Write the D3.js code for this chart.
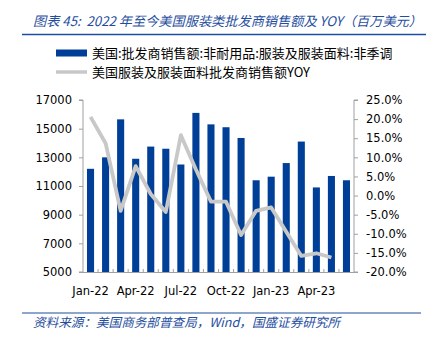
<!DOCTYPE html>
<html><head><meta charset="utf-8">
<script src="https://cdn.jsdelivr.net/npm/d3@7"></script>
<style>
body{margin:0;background:#fff;}
svg{display:block;}
</style></head>
<body>
<svg id="c" width="428" height="337"></svg>
<script>
const months = ["Jan-22","Feb-22","Mar-22","Apr-22","May-22","Jun-22","Jul-22","Aug-22","Sep-22","Oct-22","Nov-22","Dec-22","Jan-23","Feb-23","Mar-23","Apr-23","May-23","Jun-23"];
const sales = [12200,13000,15650,12900,13750,13600,12500,16100,15300,15100,14350,11400,11650,12600,14100,10900,11700,11400];
const yoy = [20.6,13.7,-4.0,7.7,0.4,-4.3,15.8,6.8,-1.6,-1.6,-10.3,-4.0,-3.1,-9.5,-15.8,-15.1,-16.2,null];
const xTickLabels = ["Jan-22","Apr-22","Jul-22","Oct-22","Jan-23","Apr-23"];
const leftTicks = [5000,7000,9000,11000,13000,15000,17000];
const rightTicks = [-20,-15,-10,-5,0,5,10,15,20,25];
const seriesNames = ["美国:批发商销售额:非耐用品:服装及服装面料:非季调","美国服装及服装面料批发商销售额YOY"];
const titleText = "图表 45:  2022 年至今美国服装类批发商销售额及 YOY（百万美元）";
const sourceText = "资料来源：美国商务部普查局，Wind，国盛证券研究所";

const svg = d3.select("#c");
const blue = "#003F98", gray = "#C8C8C8", axisCol = "#A0A0A0", titleBlue = "#1F4E9E";
const numFont = "'DejaVu Sans', sans-serif";
const cjkFont = "'Noto Sans CJK SC', sans-serif";

const L = 83, R = 354, T = 100, B = 272;
const x = d3.scaleBand().domain(months).range([L, R]).paddingInner(0.53).paddingOuter(0.265);
const xb = d3.scaleBand().domain(months).range([L, R]);
const yL = d3.scaleLinear().domain([5000,17000]).range([B, T]);
const yR = d3.scaleLinear().domain([-20,25]).range([B, T]);

// title
svg.append("text").attr("x",33).attr("y",26).attr("fill",titleBlue)
  .attr("font-family",cjkFont).attr("font-size",13.2).attr("font-style","italic")
  .attr("xml:space","preserve")
  .text(titleText);
svg.append("line").attr("x1",22).attr("x2",426).attr("y1",34.5).attr("y2",34.5)
  .attr("stroke",titleBlue).attr("stroke-width",1.5);

// legend
svg.append("rect").attr("x",56).attr("y",49.5).attr("width",31).attr("height",7).attr("fill",blue);
svg.append("text").attr("x",92).attr("y",57.5).attr("font-family",cjkFont).attr("font-size",13).attr("fill","#000").text(seriesNames[0]);
svg.append("line").attr("x1",56).attr("x2",87).attr("y1",72).attr("y2",72).attr("stroke",gray).attr("stroke-width",3.5);
svg.append("text").attr("x",92).attr("y",76.5).attr("font-family",cjkFont).attr("font-size",13).attr("fill","#000").text(seriesNames[1]);

// bars
svg.append("g").selectAll("rect").data(months).join("rect")
  .attr("x", d=>x(d)).attr("width", x.bandwidth())
  .attr("y", (d,i)=>yL(sales[i])).attr("height",(d,i)=>B-yL(sales[i]))
  .attr("fill",blue);

// left axis
const gl = svg.append("g").attr("transform",`translate(${L},0)`)
  .call(d3.axisLeft(yL).tickValues(leftTicks).tickSize(4).tickPadding(7).tickFormat(d3.format("d")));
gl.select(".domain").attr("stroke",axisCol).attr("d",`M-4,${T}H0V${B}H-4`);
gl.selectAll(".tick line").attr("stroke",axisCol);
gl.selectAll(".tick text").attr("font-family",numFont).attr("font-size",11.5).attr("fill","#000");

// right axis
const gr = svg.append("g").attr("transform",`translate(${R},0)`)
  .call(d3.axisRight(yR).tickValues(rightTicks).tickSize(4).tickPadding(8).tickFormat(d=>d.toFixed(1)+"%"));
gr.select(".domain").attr("stroke",axisCol).attr("d",`M4,${T}H0V${B}H4`);
gr.selectAll(".tick line").attr("stroke",axisCol);
gr.selectAll(".tick text").attr("font-family",numFont).attr("font-size",11.5).attr("fill","#000");

// x axis
const gx = svg.append("g").attr("transform",`translate(0,${B})`);
gx.append("line").attr("x1",L).attr("x2",R).attr("y1",0.5).attr("y2",0.5).attr("stroke",axisCol);
gx.selectAll("line.t").data(months.slice(1)).join("line").attr("class","t")
  .attr("x1",d=>xb(d)).attr("x2",d=>xb(d)).attr("y1",0.5).attr("y2",-3).attr("stroke",axisCol);
gx.selectAll("text").data(xTickLabels).join("text")
  .attr("x",d=>xb(d)+xb.bandwidth()/2).attr("y",23).attr("text-anchor","middle")
  .attr("font-family",numFont).attr("font-size",11.5).attr("fill","#000").text(d=>d);

// line
const line = d3.line().defined(d=>d!=null)
  .x((d,i)=>xb(months[i])+xb.bandwidth()/2).y(d=>yR(d));
svg.append("path").datum(yoy).attr("d",line).attr("fill","none")
  .attr("stroke",gray).attr("stroke-width",3.8).attr("stroke-linejoin","round");

// source
svg.append("line").attr("x1",22).attr("x2",421).attr("y1",313).attr("y2",313)
  .attr("stroke",titleBlue).attr("stroke-width",1.2);
svg.append("text").attr("x",33).attr("y",327).attr("fill",titleBlue)
  .attr("font-family",cjkFont).attr("font-size",12.6).attr("font-style","italic")
  .text(sourceText);
</script>
</body></html>
